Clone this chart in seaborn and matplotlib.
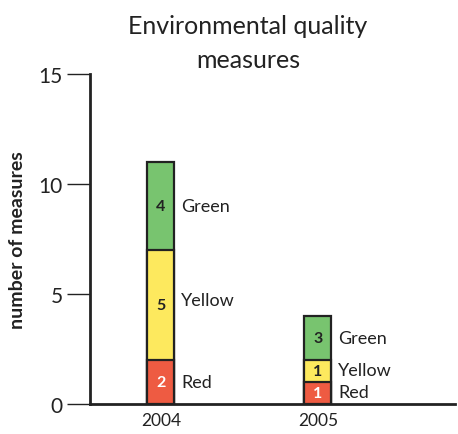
import numpy as np
import pandas as pd
import matplotlib
matplotlib.use('Agg')
import matplotlib.pyplot as plt
import seaborn as sns

# Data
years = ['2004', '2005']
red = [2, 1]
yellow = [5, 1]
green = [4, 2]
# printed labels inside the segments (as in the source figure)
red_labels = ['2', '1']
yellow_labels = ['5', '1']
green_labels = ['4', '3']
categories = ['Red', 'Yellow', 'Green']

colors = {'Red': '#EE5B42', 'Yellow': '#FDE95E', 'Green': '#78C46F'}

sns.set_style('white')
plt.rcParams['font.family'] = ['Lato', 'DejaVu Sans']

fig = plt.figure(figsize=(4.58, 4.35), dpi=100)
ax = fig.add_axes([90 / 458, 30 / 435, 365 / 458, 330 / 435])

df = pd.DataFrame({'year': years, 'Red': red, 'Yellow': yellow, 'Green': green})
df['top_yellow'] = df['Red'] + df['Yellow']
df['top_green'] = df['top_yellow'] + df['Green']

bar_w = 0.172
# draw totals first, then overlay lower segments
for col, c in [('top_green', 'Green'), ('top_yellow', 'Yellow'), ('Red', 'Red')]:
    sns.barplot(data=df, x='year', y=col, color=colors[c], width=bar_w,
                edgecolor='#222222', linewidth=1.6, saturation=1, ax=ax)

# segment labels
for i in range(len(years)):
    segs = [
        (0, red[i], red_labels[i], 'Red', 'white'),
        (red[i], yellow[i], yellow_labels[i], 'Yellow', '#222222'),
        (red[i] + yellow[i], green[i], green_labels[i], 'Green', '#222222'),
    ]
    for base, h, lab, name, tc in segs:
        yc = base + h / 2
        ax.text(i, yc, lab, ha='center', va='center', fontsize=11.5,
                weight='bold', color=tc)
        ty = yc
        if name == 'Yellow' and i == 0:
            ty = yc + 0.25
        if i == 1 and name in ('Yellow', 'Red'):
            ty = yc + 0.05
        ax.text(i + 0.13, ty, name, ha='left', va='center', fontsize=13,
                color='#222222')

ax.set_xlim(-0.452, 1.873)
ax.set_ylim(0, 15)
ax.set_yticks([0, 5, 10, 15])
ax.set_xlabel('')
ax.set_ylabel('number of measures', fontsize=14, weight='bold', color='#222222')
ax.yaxis.set_label_coords(-0.175, 0.5)
ax.tick_params(axis='y', direction='out', length=16.5, width=1, color='#222222',
               labelsize=15, labelcolor='#222222', pad=3, left=True)
ax.tick_params(axis='x', length=0, labelsize=12.5, labelcolor='#222222', pad=6)

sns.despine(ax=ax, top=True, right=True)
for s in ['left', 'bottom']:
    ax.spines[s].set_linewidth(2)
    ax.spines[s].set_color('#222222')

fig.text(248 / 458, 1 - 26 / 435, 'Environmental quality', ha='center',
         va='center', fontsize=18, color='#222222')
fig.text(248 / 458, 1 - 60 / 435, 'measures', ha='center', va='center',
         fontsize=18, color='#222222')

fig.savefig('out.png', dpi=100)
